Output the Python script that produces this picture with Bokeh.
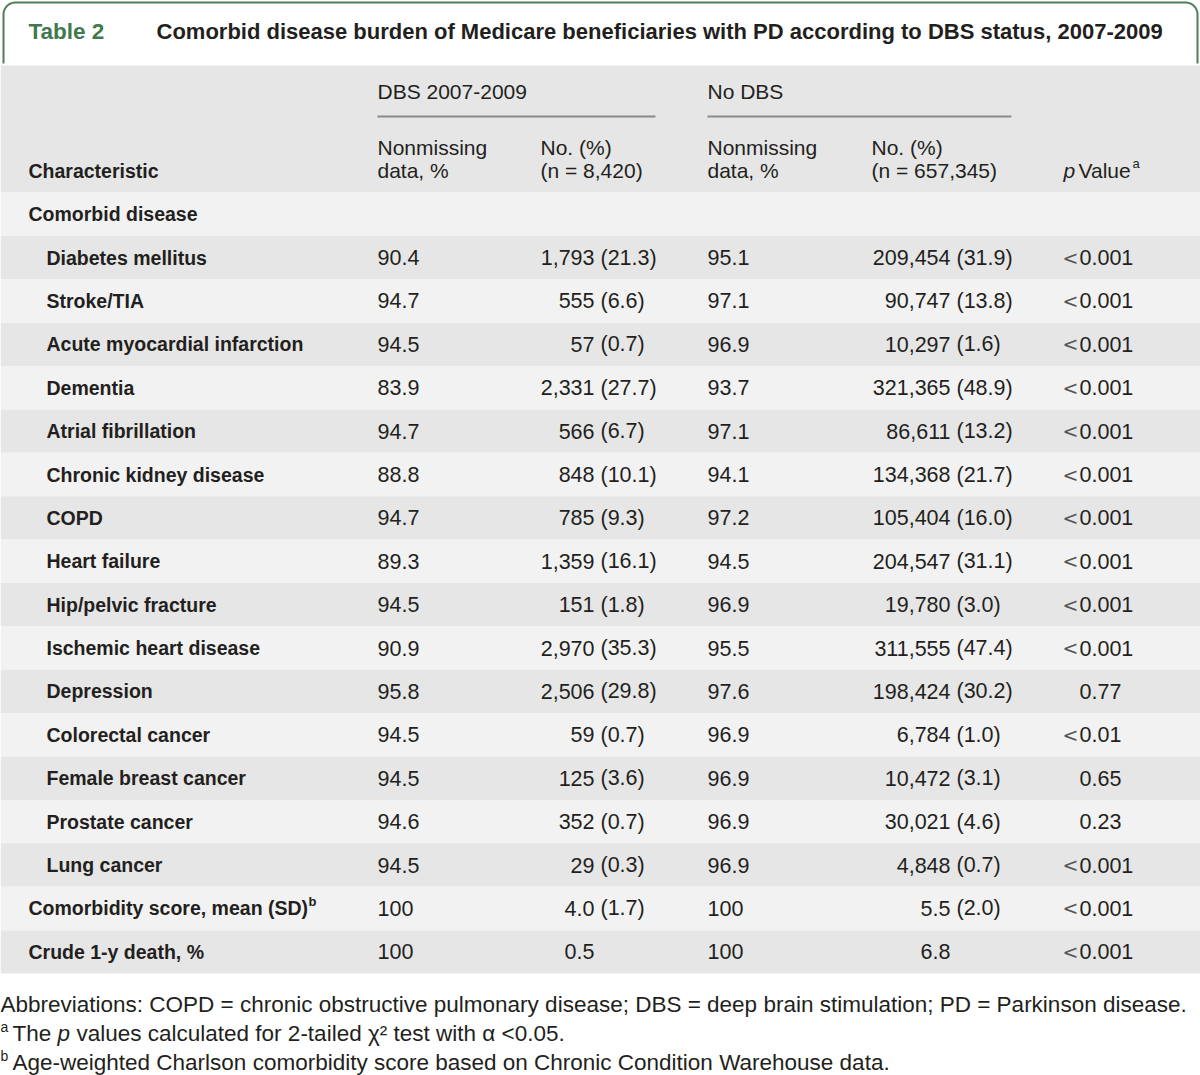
from bokeh.plotting import figure
from bokeh.models import Range1d, ColumnDataSource
from bokeh.core.properties import value
from bokeh.embed import file_html
from bokeh.resources import INLINE
import numpy as np

# ---------------- data ----------------
table_label = "Table 2"
title = "Comorbid disease burden of Medicare beneficiaries with PD according to DBS status, 2007-2009"
group_label = "Comorbid disease"
diseases = ["Diabetes mellitus", "Stroke/TIA", "Acute myocardial infarction", "Dementia",
            "Atrial fibrillation", "Chronic kidney disease", "COPD", "Heart failure",
            "Hip/pelvic fracture", "Ischemic heart disease", "Depression", "Colorectal cancer",
            "Female breast cancer", "Prostate cancer", "Lung cancer"]
dbs_nonmissing = [90.4, 94.7, 94.5, 83.9, 94.7, 88.8, 94.7, 89.3, 94.5, 90.9, 95.8, 94.5, 94.5, 94.6, 94.5]
dbs_count = [1793, 555, 57, 2331, 566, 848, 785, 1359, 151, 2970, 2506, 59, 125, 352, 29]
dbs_pct = [21.3, 6.6, 0.7, 27.7, 6.7, 10.1, 9.3, 16.1, 1.8, 35.3, 29.8, 0.7, 3.6, 0.7, 0.3]
nodbs_nonmissing = [95.1, 97.1, 96.9, 93.7, 97.1, 94.1, 97.2, 94.5, 96.9, 95.5, 97.6, 96.9, 96.9, 96.9, 96.9]
nodbs_count = [209454, 90747, 10297, 321365, 86611, 134368, 105404, 204547, 19780, 311555,
               198424, 6784, 10472, 30021, 4848]
nodbs_pct = [31.9, 13.8, 1.6, 48.9, 13.2, 21.7, 16.0, 31.1, 3.0, 47.4, 30.2, 1.0, 3.1, 4.6, 0.7]
p_values = ["<0.001", "<0.001", "<0.001", "<0.001", "<0.001", "<0.001", "<0.001", "<0.001",
            "<0.001", "<0.001", "0.77", "<0.01", "0.65", "0.23", "<0.001"]

summary_labels = ["Comorbidity score, mean (SD)", "Crude 1-y death, %"]
summary_dbs_nonmissing = [100, 100]
summary_dbs_main = ["4.0", "0.5"]
summary_dbs_sd = ["(1.7)", ""]
summary_nodbs_nonmissing = [100, 100]
summary_nodbs_main = ["5.5", "6.8"]
summary_nodbs_sd = ["(2.0)", ""]
summary_p = ["<0.001", "<0.001"]

group_headers = ["DBS 2007-2009", "No DBS"]
col_headers_1 = ["Nonmissing", "No. (%)", "Nonmissing", "No. (%)"]
col_headers_2 = ["data, %", "(n = 8,420)", "data, %", "(n = 657,345)"]
char_header = "Characteristic"

footnote_abbrev = "Abbreviations: COPD = chronic obstructive pulmonary disease; DBS = deep brain stimulation; PD = Parkinson disease."
footnote_a = "values calculated for 2-tailed \u03c7\u00b2 test with \u03b1 <0.05."
footnote_b = "Age-weighted Charlson comorbidity score based on Chronic Condition Warehouse data."

# ---------------- layout ----------------
W, H = 1200, 1075

p = figure(width=W, height=H, output_backend="svg", toolbar_location=None,
           x_range=Range1d(0, W), y_range=Range1d(H, 0), min_border=0)
p.axis.visible = False
p.grid.visible = False
p.outline_line_color = None
p.background_fill_color = "white"
p.border_fill_color = "white"

TXT = "#231f20"
GREEN = "#3f7a4f"
BODY = value("Liberation Sans")
HEAD = value("Liberation Sans")
NUM_FS = "21.5px"
HEAD_FS = "21px"
NAME_FS = "19.5px"
NOTE_FS = "22.5px"

# frame around the title
r = 12
th = np.linspace(np.pi, 1.5 * np.pi, 20)
left_arc_x = list(3 + r + r * np.cos(th))
left_arc_y = list(2 + r + r * np.sin(th))
th2 = np.linspace(1.5 * np.pi, 2 * np.pi, 20)
right_arc_x = list(1197 - r + r * np.cos(th2))
right_arc_y = list(2 + r + r * np.sin(th2))
p.line([3] + left_arc_x + right_arc_x + [1197], [63] + left_arc_y + right_arc_y + [63],
       line_color="#4f7f5a", line_width=2)

p.text(x=[28], y=[31], text=[table_label], text_font=BODY, text_font_style="bold",
       text_font_size="22.5px", text_color=GREEN, text_baseline="middle")
p.text(x=[156], y=[31], text=[title], text_font=BODY, text_font_style="bold",
       text_font_size="22px", text_color=TXT, text_baseline="middle")

# backgrounds
top, row_h = 192.0, 43.39
n_rows = 1 + len(diseases) + len(summary_labels)
p.quad(left=[0], right=[W], top=[65], bottom=[top], fill_color="#e6e6e6", line_color=None)
row_tops = [top + i * row_h for i in range(n_rows)]
row_bots = [t + row_h for t in row_tops]
row_cols = ["#f2f2f2" if i % 2 == 0 else "#e6e6e6" for i in range(n_rows)]
p.quad(left=[0] * n_rows, right=[W] * n_rows, top=row_tops, bottom=row_bots,
       fill_color=row_cols, line_color=None)
yc = [t + row_h / 2 for t in row_tops]

# header texts
p.text(x=[377, 707], y=[91, 91], text=group_headers, text_font=HEAD, text_font_size=HEAD_FS,
       text_color=TXT, text_baseline="middle")
p.segment(x0=[377, 707], x1=[655, 1011], y0=[116, 116], y1=[116, 116],
          line_color="#8a8a8a", line_width=2)
hx = [377, 540, 707, 871]
p.text(x=hx, y=[147] * 4, text=col_headers_1, text_font=HEAD, text_font_size=HEAD_FS,
       text_color=TXT, text_baseline="middle")
p.text(x=hx, y=[170] * 4, text=col_headers_2, text_font=HEAD, text_font_size=HEAD_FS,
       text_color=TXT, text_baseline="middle")
p.text(x=[28], y=[170], text=[char_header], text_font=BODY, text_font_style="bold",
       text_font_size=NAME_FS, text_color=TXT, text_baseline="middle")
p.text(x=[1063], y=[170], text=["p"], text_font=HEAD, text_font_style="italic",
       text_font_size=HEAD_FS, text_color=TXT, text_baseline="middle")
p.text(x=[1078], y=[170], text=["Value"], text_font=HEAD, text_font_size=HEAD_FS,
       text_color=TXT, text_baseline="middle")
p.text(x=[1132], y=[163], text=["a"], text_font=HEAD, text_font_size="13px",
       text_color=TXT, text_baseline="middle")

# row labels
label_src = ColumnDataSource(dict(
    x=[28] + [46] * len(diseases) + [28] * len(summary_labels),
    y=yc, t=[group_label] + diseases + summary_labels))
p.text(x="x", y="y", text="t", source=label_src, text_font=BODY, text_font_style="bold",
       text_font_size=NAME_FS, text_color=TXT, text_baseline="middle")
p.text(x=[308], y=[yc[-2] - 7], text=["b"], text_font=BODY, text_font_style="bold",
       text_font_size="13px", text_color=TXT, text_baseline="middle")

def fmt_nm(v):
    return "%d" % v if v == 100 else "%.1f" % v

data_y = yc[1:]

# nonmissing columns
p.text(x=[377] * len(data_y), y=data_y,
       text=[fmt_nm(v) for v in dbs_nonmissing + summary_dbs_nonmissing],
       text_font=BODY, text_font_size=NUM_FS, text_color=TXT, text_baseline="middle")
p.text(x=[707] * len(data_y), y=data_y,
       text=[fmt_nm(v) for v in nodbs_nonmissing + summary_nodbs_nonmissing],
       text_font=BODY, text_font_size=NUM_FS, text_color=TXT, text_baseline="middle")

# counts: number right aligned before the "(", percentage left aligned at "("
dbs_main = ["{:,}".format(c) for c in dbs_count] + summary_dbs_main
dbs_par = ["({:.1f})".format(q) for q in dbs_pct] + summary_dbs_sd
nodbs_main = ["{:,}".format(c) for c in nodbs_count] + summary_nodbs_main
nodbs_par = ["({:.1f})".format(q) for q in nodbs_pct] + summary_nodbs_sd
for paren_x, mains, pars in [(600, dbs_main, dbs_par), (956, nodbs_main, nodbs_par)]:
    p.text(x=[paren_x - 6] * len(data_y), y=data_y, text=mains, text_font=BODY,
           text_font_size=NUM_FS, text_color=TXT, text_baseline="middle", text_align="right")
    p.text(x=[paren_x] * len(data_y), y=data_y, text=pars, text_font=BODY,
           text_font_size=NUM_FS, text_color=TXT, text_baseline="middle")

# p values: number left aligned at 1079, "<" before it
allp = p_values + summary_p
pnum = [v.lstrip("<") for v in allp]
ppre = ["<" if v.startswith("<") else "" for v in allp]
p.text(x=[1079] * len(allp), y=data_y, text=pnum, text_font=BODY, text_font_size=NUM_FS,
       text_color=TXT, text_baseline="middle")
p.text(x=[1078] * len(allp), y=data_y, text=ppre, text_font=value("DejaVu Sans"), text_font_size="19px",
       text_color="#555555", text_baseline="middle", text_align="right")

# footnotes
p.text(x=[0], y=[1004], text=[footnote_abbrev], text_font=BODY, text_font_size=NOTE_FS,
       text_color=TXT, text_baseline="middle")
p.text(x=[0], y=[1026], text=["a"], text_font=BODY, text_font_size="14px",
       text_color=TXT, text_baseline="middle")
p.text(x=[12], y=[1033], text=["The"], text_font=BODY, text_font_size=NOTE_FS,
       text_color=TXT, text_baseline="middle")
p.text(x=[57], y=[1033], text=["p"], text_font=BODY, text_font_style="italic", text_font_size=NOTE_FS,
       text_color=TXT, text_baseline="middle")
p.text(x=[76], y=[1033], text=[footnote_a], text_font=BODY, text_font_size=NOTE_FS,
       text_color=TXT, text_baseline="middle")
p.text(x=[0], y=[1055], text=["b"], text_font=BODY, text_font_size="14px",
       text_color=TXT, text_baseline="middle")
p.text(x=[12], y=[1062], text=[footnote_b], text_font=BODY, text_font_size=NOTE_FS,
       text_color=TXT, text_baseline="middle")

open("out.html", "w").write(file_html(p, INLINE))
